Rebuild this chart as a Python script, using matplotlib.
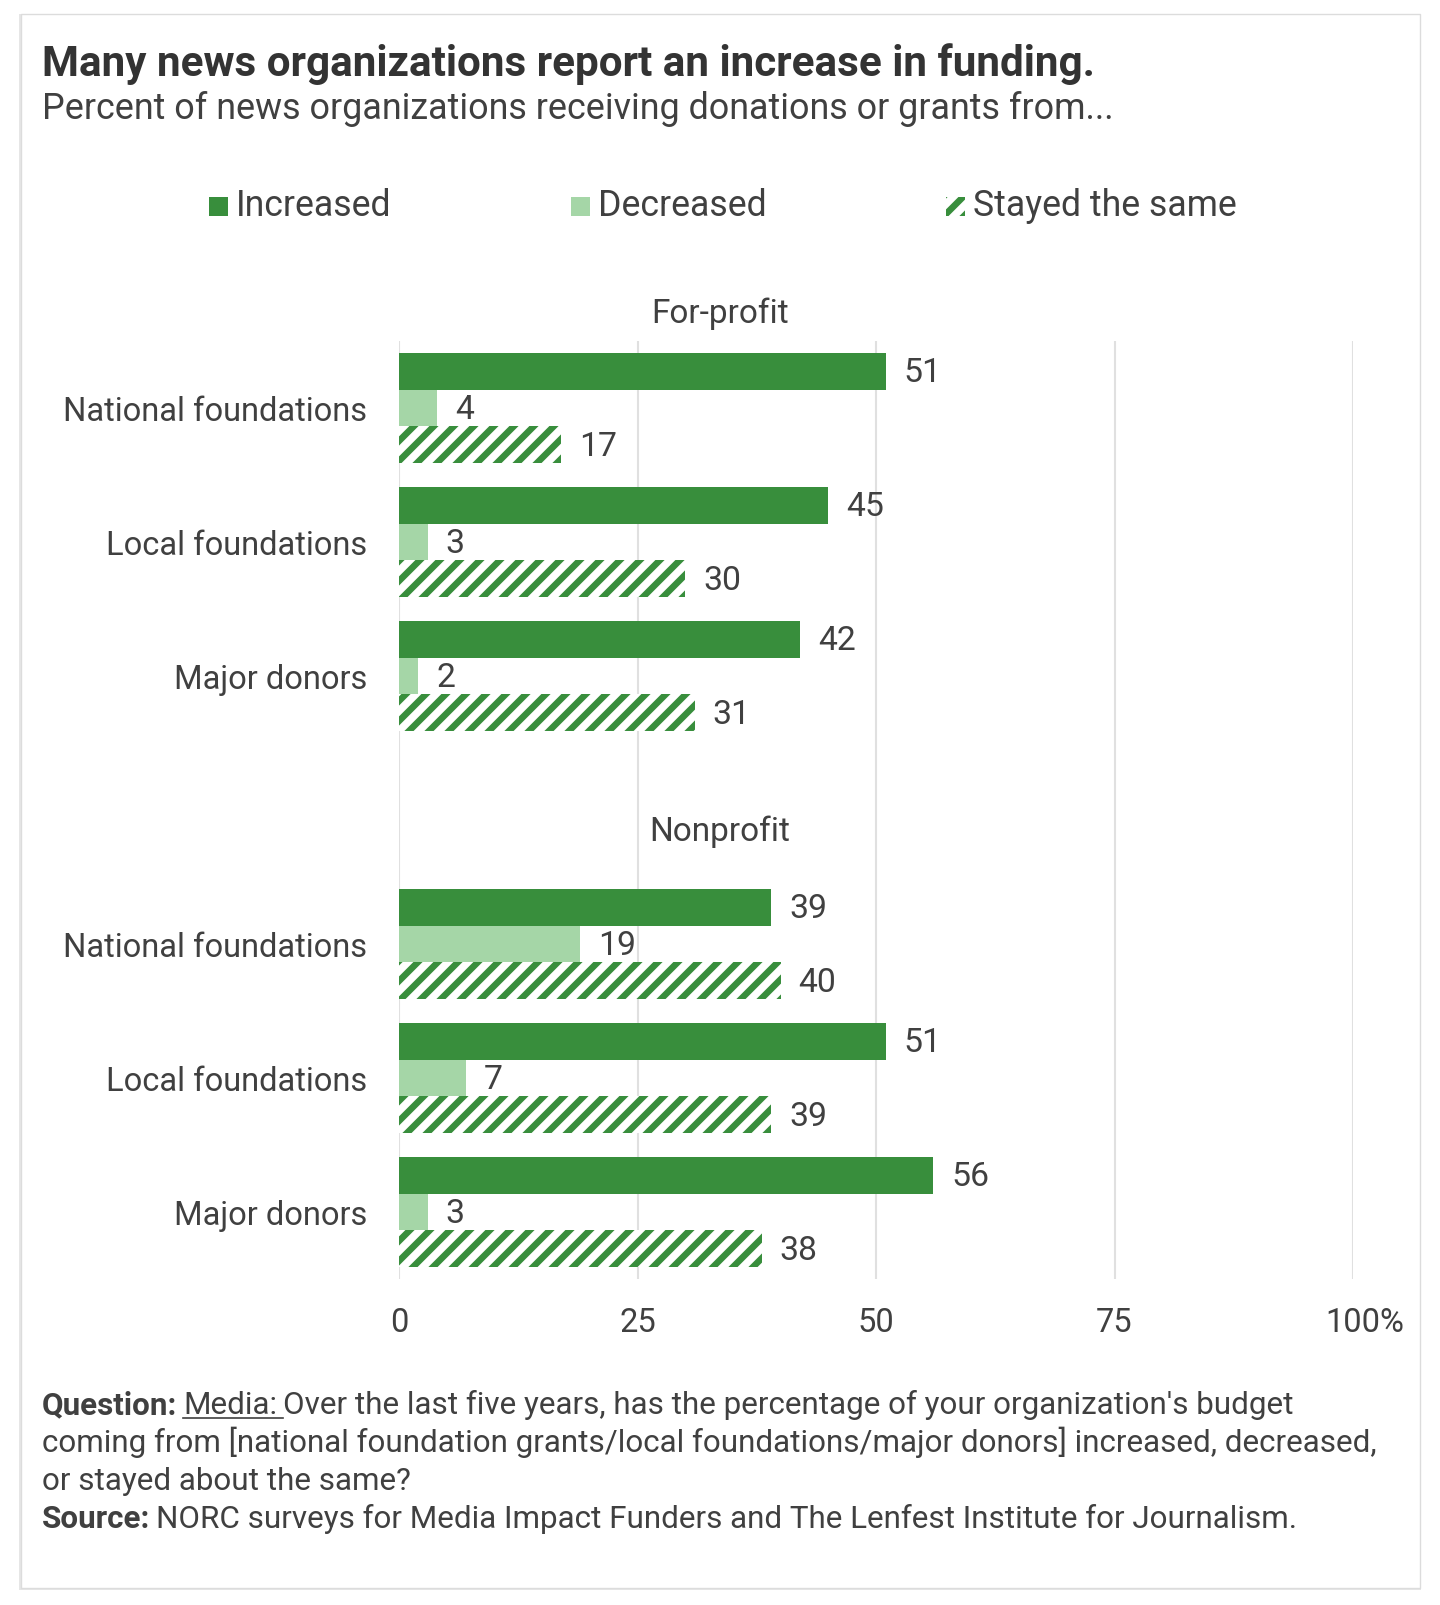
import matplotlib
matplotlib.use("Agg")
import matplotlib.pyplot as plt
from matplotlib.patches import Rectangle
from matplotlib.transforms import blended_transform_factory, ScaledTranslation
from matplotlib.lines import Line2D

DPI = 120
K = 100 / DPI  # sizes below are given as points at 100 dpi

def P(v):
    return v * K

plt.rcParams['font.family'] = ['Roboto', 'DejaVu Sans']
plt.rcParams['hatch.linewidth'] = 3.9

# ---- data ----
groups = ['For-profit', 'Nonprofit']
categories = ['National foundations', 'Local foundations', 'Major donors']
increased = [51, 45, 42, 39, 51, 56]
decreased = [4, 3, 2, 19, 7, 3]
same = [17, 30, 31, 40, 39, 38]
series_names = ['Increased', 'Decreased', 'Stayed the same']
xticks = [0, 25, 50, 75, 100]
xticklabels = ['0', '25', '50', '75', '100%']

C_INC = '#388e3c'
C_DEC = '#a5d6a7'
TXT = '#404040'

W, H = 1440, 1605
fig = plt.figure(figsize=(W / DPI, H / DPI), dpi=DPI)
fig.patch.set_facecolor('white')

def fx(x):
    return x / W

def fy(y):
    return 1 - y / H

# card
fig.patches.append(Rectangle((fx(19), fy(1590)), fx(1402), 1576 / H, transform=fig.transFigure,
                             facecolor='#e6e6e6', edgecolor='none', zorder=-3))
fig.patches.append(Rectangle((fx(20.5), fy(1588)), fx(1399), 1574 / H, transform=fig.transFigure,
                             facecolor='white', edgecolor='#dcdcdc', lw=P(1.0), zorder=-2))

# axes
ax_l, ax_r, ax_t, ax_b = 399, 1353, 341, 1279
ax = fig.add_axes([fx(ax_l), fy(ax_b), (ax_r - ax_l) / W, (ax_b - ax_t) / H])

rows = [0, 1, 2, 4, 5, 6]
bh = 0.275
ax.barh([r - bh for r in rows], increased, height=bh, color=C_INC, zorder=3)
ax.barh(rows, decreased, height=bh, color=C_DEC, zorder=3)
ax.barh([r + bh for r in rows], same, height=bh, color='white', edgecolor=C_INC,
        linewidth=0, hatch='//', zorder=3)

for vals, off in ((increased, -bh), (decreased, 0), (same, bh)):
    for r, v in zip(rows, vals):
        ax.annotate(str(v), (v, r + off), xytext=(P(13), -P(1.5)), textcoords='offset points',
                    va='center', ha='left', fontsize=P(24.3), color=TXT)

ax.set_xlim(0, 100)
ax.set_ylim(6.5, -0.5)
ax.set_xticks(xticks)
ax.set_xticklabels(xticklabels)
ax.set_yticks(rows)
ax.set_yticklabels(categories * 2)
ax.tick_params(axis='both', length=0, labelsize=P(23.5), colors=TXT)
ax.tick_params(axis='y', pad=P(23))
ax.tick_params(axis='x', pad=P(20))
lab = ax.get_xticklabels()[-1]
lab.set_transform(lab.get_transform() + ScaledTranslation(12 / DPI, 0, fig.dpi_scale_trans))
for s in ax.spines.values():
    s.set_visible(False)
ax.grid(axis='x', color='#e0e0e0', lw=P(1.5), zorder=0)
ax.set_axisbelow(True)

# group labels
bt = blended_transform_factory(fig.transFigure, ax.transData)
ax.text(0.5, -0.70, groups[0], transform=bt, ha='center', va='center', fontsize=P(24), color=TXT)
ax.text(0.5, 3.16, groups[1], transform=bt, ha='center', va='center', fontsize=P(24), color=TXT)

# title
fig.text(fx(42), fy(76), 'Many news organizations report an increase in funding.', fontsize=P(30.4),
         fontweight='bold', color='#333333', va='baseline', ha='left')
fig.text(fx(42), fy(119), 'Percent of news organizations receiving donations or grants from...',
         fontsize=P(25.8), color=TXT, va='baseline', ha='left')

# legend
leg_y = 206
sq = 19
items = [(209, series_names[0], dict(facecolor=C_INC, edgecolor='none')),
         (571, series_names[1], dict(facecolor=C_DEC, edgecolor='none')),
         (946, series_names[2], dict(facecolor='white', edgecolor=C_INC, lw=0, hatch='//'))]
for x0, name, kw in items:
    fig.patches.append(Rectangle((fx(x0), fy(leg_y + sq / 2)), sq / W, sq / H,
                                 transform=fig.transFigure, **kw))
    fig.text(fx(x0 + sq + 8), fy(leg_y), name, fontsize=P(25.7), color=TXT, va='center', ha='left')

# footnote
fig.canvas.draw()
r = fig.canvas.get_renderer()
fs = P(22.6)
base = [1414, 1452, 1490, 1528]

def chain(x, y, s, **kw):
    t = fig.text(fx(x), fy(y), s, fontsize=fs, color=TXT, va='baseline', ha='left', **kw)
    bb = t.get_window_extent(r)
    return t, bb

t, bb = chain(42, base[0], 'Question:', fontweight='bold')
t2, bb2 = chain(bb.x1 + 6, base[0], 'Media:')
gap = 6
fig.add_artist(Line2D([fx(bb2.x0), fx(bb2.x1 + gap)], [fy(base[0] + 4), fy(base[0] + 4)],
                      transform=fig.transFigure, color=TXT, lw=P(1.2)))
chain(bb2.x1 + gap, base[0], "Over the last five years, has the percentage of your organization's budget")
chain(42, base[1], 'coming from [national foundation grants/local foundations/major donors] increased, decreased,')
chain(42, base[2], 'or stayed about the same?')
t, bb = chain(42, base[3], 'Source:', fontweight='bold')
chain(bb.x1 + 6, base[3], 'NORC surveys for Media Impact Funders and The Lenfest Institute for Journalism.')

fig.savefig('out.png', dpi=DPI, facecolor='white')
